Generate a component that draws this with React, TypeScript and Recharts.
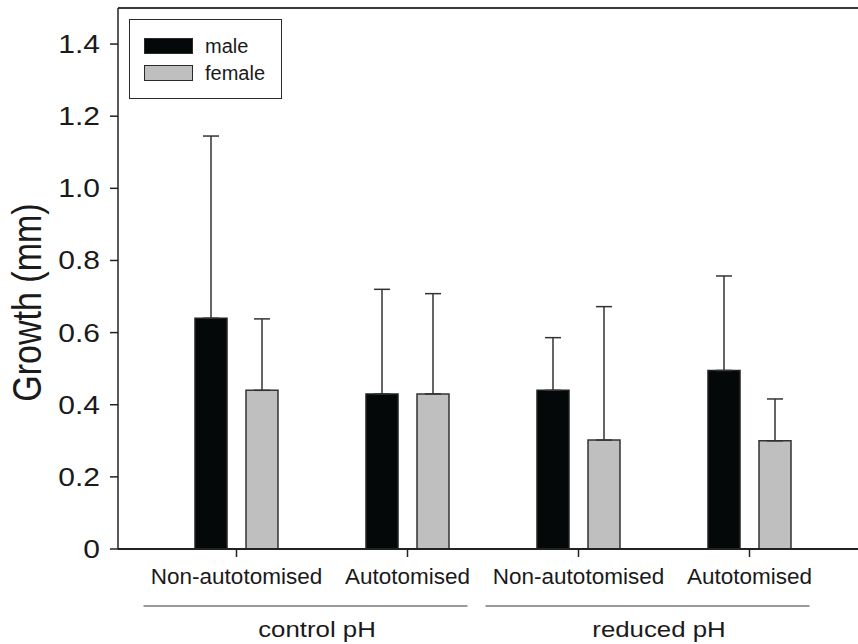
import React from "react";
import {
  Bar,
  BarChart,
  ErrorBar,
  Legend,
  ReferenceLine,
  XAxis,
  YAxis,
} from "recharts";

const FONT = "'Liberation Sans', Arial, Helvetica, sans-serif";

const categories = ["Non-autotomised", "Autotomised", "Non-autotomised", "Autotomised"];
const groups = ["control pH", "reduced pH"];
const seriesNames = ["male", "female"];
const maleMean = [0.64, 0.43, 0.44, 0.495];
const maleErr = [0.505, 0.29, 0.146, 0.262];
const femaleMean = [0.44, 0.43, 0.302, 0.3];
const femaleErr = [0.198, 0.278, 0.37, 0.116];
const yTicks = [0, 0.2, 0.4, 0.6, 0.8, 1.0, 1.2, 1.4];

const data = categories.map((label, i) => ({
  label,
  male: maleMean[i],
  maleErr: [0, maleErr[i]],
  female: femaleMean[i],
  femaleErr: [0, femaleErr[i]],
}));

const W = 858;
const H = 644;
const PLOT_LEFT = 118;
const PAD_L = 33;
const PAD_R = 23;
const BAND = (W - PLOT_LEFT - PAD_L - PAD_R) / categories.length;

function YTick({ x, y, payload }: any) {
  const v = payload.value;
  const text = v === 0 ? "0" : v.toFixed(1);
  return (
    <text
      transform={`translate(${x},${y}) scale(1.2,1)`}
      textAnchor="end"
      dy="0.36em"
      fontSize={25}
      fontFamily={FONT}
      fill="#1a1a1a"
    >
      {text}
    </text>
  );
}

function XTick({ x, y, payload, index }: any) {
  const showGroup = index % 2 === 0;
  const g = groups[Math.floor(index / 2)];
  const left = x - 93;
  const right = x + BAND + 60;
  const gc = x + BAND / 2 - 5;
  return (
    <g>
      <text
        x={x}
        y={y + 16}
        textAnchor="middle"
        fontSize={22.5}
        fontFamily={FONT}
        fill="#1a1a1a"
      >
        {payload.value}
      </text>
      {showGroup && (
        <>
          <line x1={left} x2={right} y1={y + 38} y2={y + 38} stroke="#9a9a9a" strokeWidth={2} />
          <text
            transform={`translate(${gc},${y + 69}) scale(1.2,1)`}
            textAnchor="middle"
            fontSize={21.5}
            fontFamily={FONT}
            fill="#1a1a1a"
          >
            {g}
          </text>
        </>
      )}
    </g>
  );
}

function YLabel({ viewBox }: any) {
  const cy = viewBox.y + viewBox.height / 2 + 24;
  return (
    <text
      transform={`translate(27,${cy}) scale(1.2,1) rotate(-90)`}
      textAnchor="middle"
      dy="0.35em"
      fontSize={34}
      fontFamily={FONT}
      fill="#1a1a1a"
    >
      Growth (mm)
    </text>
  );
}

function LegendBox({ payload }: any) {
  const items = [...(payload || [])].sort(
    (a: any, b: any) => seriesNames.indexOf(a.value) - seriesNames.indexOf(b.value)
  );
  return (
    <div
      style={{
        width: 151,
        height: 78,
        border: "1.5px solid #2a2a2a",
        background: "#fff",
        position: "relative",
        fontFamily: FONT,
        fontSize: 20,
        color: "#1a1a1a",
      }}
    >
      {items.map((entry: any, i: number) => (
        <div
          key={entry.value}
          style={{ position: "absolute", left: 14, top: 18 + i * 27, display: "flex", alignItems: "center" }}
        >
          <div
            style={{
              width: 47,
              height: 14,
              background: entry.color,
              border: "1.5px solid #2a2a2a",
            }}
          />
          <span style={{ marginLeft: 12, lineHeight: "16px" }}>{entry.value}</span>
        </div>
      ))}
    </div>
  );
}

export default function App() {
  return (
    <div style={{ position: "absolute", left: 0, top: 0, width: W, height: H, background: "#fff" }}>
      <BarChart
        width={W}
        height={H}
        data={data}
        margin={{ top: 8, right: 0, left: 0, bottom: 0 }}
        barSize={32}
        barGap={19}
      >
        <ReferenceLine y={1.5} stroke="#3a3a3a" strokeWidth={2} ifOverflow="extendDomain" />
        <XAxis
          dataKey="label"
          height={95}
          padding={{ left: PAD_L, right: PAD_R }}
          axisLine={{ stroke: "#222", strokeWidth: 2 }}
          tickLine={{ stroke: "#222", strokeWidth: 1.5 }}
          tickSize={8}
          tickMargin={11}
          tick={<XTick />}
          interval={0}
        />
        <YAxis
          width={PLOT_LEFT}
          domain={[0, 1.5]}
          ticks={yTicks}
          allowDataOverflow
          axisLine={{ stroke: "#222", strokeWidth: 1.5 }}
          tickLine={{ stroke: "#222", strokeWidth: 1.5 }}
          tickSize={8}
          tickMargin={10}
          tick={<YTick />}
          label={<YLabel />}
        />
        <Legend
          verticalAlign="middle"
          align="center"
          layout="horizontal"
          content={<LegendBox />}
          wrapperStyle={{ position: "absolute", left: 129, top: 19, width: "auto", height: "auto" }}
        />
        <Bar dataKey="male" name="male" fill="#050808" stroke="#222" strokeWidth={1.5} isAnimationActive={false}>
          <ErrorBar dataKey="maleErr" width={8} stroke="#333" strokeWidth={1.5} isAnimationActive={false} />
        </Bar>
        <Bar dataKey="female" name="female" fill="#bfbfbf" stroke="#333" strokeWidth={1.5} isAnimationActive={false}>
          <ErrorBar dataKey="femaleErr" width={8} stroke="#333" strokeWidth={1.5} isAnimationActive={false} />
        </Bar>
      </BarChart>
    </div>
  );
}
